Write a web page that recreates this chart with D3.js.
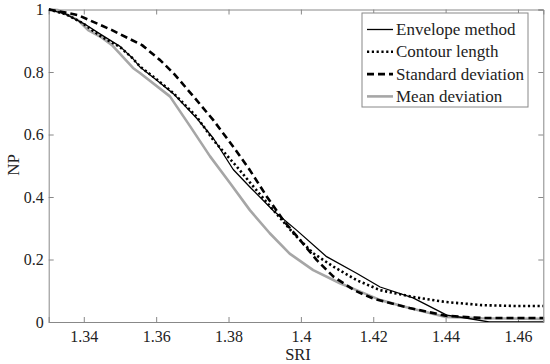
<!DOCTYPE html>
<html><head><meta charset="utf-8">
<script src="https://cdn.jsdelivr.net/npm/d3@7"></script>
<style>body{margin:0;background:#fff}svg{display:block}text{font-family:"Liberation Serif","Tinos","Times New Roman","DejaVu Serif",serif;fill:#222}</style>
</head><body><svg id="c" width="550" height="364"></svg>
<script>
const seriesNames = ["Envelope method","Contour length","Standard deviation","Mean deviation"];
const envX = [1.3303,1.335,1.34,1.345,1.35,1.3534,1.3556,1.36,1.3648,1.3712,1.3758,1.3813,1.3859,1.3924,1.3988,1.4071,1.4154,1.4219,1.431,1.4403,1.446,1.452,1.46,1.467];
const envY = [1.0,0.985,0.955,0.918,0.882,0.845,0.815,0.775,0.73,0.652,0.588,0.488,0.432,0.356,0.294,0.209,0.156,0.112,0.077,0.022,0.012,0.0,0.0,0.0];
const conX = [1.3303,1.335,1.3396,1.3423,1.345,1.35,1.3534,1.3556,1.36,1.3648,1.3712,1.3758,1.3823,1.3869,1.3924,1.3979,1.4034,1.409,1.4154,1.4219,1.431,1.44,1.45,1.46,1.467];
const conY = [1.0,0.985,0.957,0.934,0.912,0.88,0.845,0.817,0.778,0.732,0.657,0.582,0.497,0.433,0.358,0.284,0.22,0.177,0.134,0.102,0.08,0.064,0.054,0.051,0.051];
const stdX = [1.3303,1.335,1.3384,1.3478,1.3561,1.3611,1.3648,1.3703,1.3758,1.3813,1.3859,1.3906,1.3951,1.3998,1.4044,1.409,1.415,1.42,1.43,1.44,1.45,1.467];
const stdY = [1.0,0.99,0.982,0.934,0.886,0.838,0.796,0.722,0.646,0.561,0.486,0.401,0.326,0.262,0.198,0.145,0.10,0.075,0.045,0.02,0.013,0.013];
const meanX = [1.3303,1.3329,1.3384,1.3412,1.345,1.3478,1.3536,1.3556,1.3638,1.3694,1.3749,1.3804,1.3859,1.3914,1.3969,1.4034,1.4108,1.4154,1.422,1.43,1.44,1.45,1.467];
const meanY = [1.0,0.998,0.966,0.934,0.91,0.886,0.813,0.796,0.722,0.626,0.53,0.445,0.358,0.284,0.219,0.166,0.124,0.102,0.07,0.045,0.016,0.012,0.01];
const xTicks = [1.34,1.36,1.38,1.4,1.42,1.44,1.46];
const yTicks = [0,0.2,0.4,0.6,0.8,1];

const svg = d3.select("#c");
const L=48.7,R=543.3,T=9.5,B=322;
const x = d3.scaleLinear().domain([1.3303,1.4670]).range([L,R]);
const y = d3.scaleLinear().domain([0,1]).range([B,T]);
const axisCol="#888";

const styles = [
  {stroke:"#000",w:1.3,dash:null},
  {stroke:"#000",w:2.6,dash:"2.2,2.6"},
  {stroke:"#000",w:2.6,dash:"7,4"},
  {stroke:"#a6a6a6",w:2.6,dash:null}
];
const data = [[envX,envY],[conX,conY],[stdX,stdY],[meanX,meanY]].map(([a,b])=>a.map((v,i)=>[v,b[i]]));

svg.append("defs").append("clipPath").attr("id","cp").append("rect").attr("x",L).attr("y",T-2).attr("width",R-L).attr("height",B-T+2);

const gx = svg.append("g").attr("transform",`translate(0,${B})`).call(d3.axisBottom(x).tickValues(xTicks).tickSize(-5).tickPadding(9).tickFormat(d3.format("")));
const gxt = svg.append("g").attr("transform",`translate(0,${T})`).call(d3.axisTop(x).tickValues(xTicks).tickSize(-5).tickFormat(""));
const gy = svg.append("g").attr("transform",`translate(${L},0)`).call(d3.axisLeft(y).tickValues(yTicks).tickSize(-5).tickPadding(5).tickFormat(d3.format("")));
const gyr = svg.append("g").attr("transform",`translate(${R},0)`).call(d3.axisRight(y).tickValues(yTicks).tickSize(-5).tickFormat(""));
[gx,gxt,gy,gyr].forEach(g=>{g.attr("font-family",null);g.selectAll("path,line").attr("stroke",axisCol);});
svg.selectAll(".tick text").attr("font-size",16).attr("fill","#222");

const line = d3.line().x(d=>x(d[0])).y(d=>y(d[1]));
const order=[3,0,1,2];
order.forEach(i=>{
  svg.append("path").datum(data[i]).attr("d",line).attr("fill","none")
    .attr("stroke",styles[i].stroke).attr("stroke-width",styles[i].w)
    .attr("stroke-dasharray",styles[i].dash).attr("stroke-linejoin","round").attr("clip-path","url(#cp)");
});

const lg = svg.append("g");
lg.append("rect").attr("x",362).attr("y",13).attr("width",166).attr("height",94).attr("fill","#fff").attr("stroke",axisCol).attr("stroke-width",1);
seriesNames.forEach((n,i)=>{
  const yy = 29.5 + i*22.3;
  lg.append("line").attr("x1",367).attr("x2",393).attr("y1",yy).attr("y2",yy)
    .attr("stroke",styles[i].stroke).attr("stroke-width",styles[i].w).attr("stroke-dasharray",styles[i].dash);
  lg.append("text").attr("x",396).attr("y",yy+5.5).attr("font-size",17).text(n);
});

svg.append("text").attr("x",298).attr("y",360).attr("text-anchor","middle").attr("font-size",16.5).text("SRI");
svg.append("text").attr("transform","translate(19,165) rotate(-90)").attr("text-anchor","middle").attr("font-size",17).text("NP");
</script></body></html>
